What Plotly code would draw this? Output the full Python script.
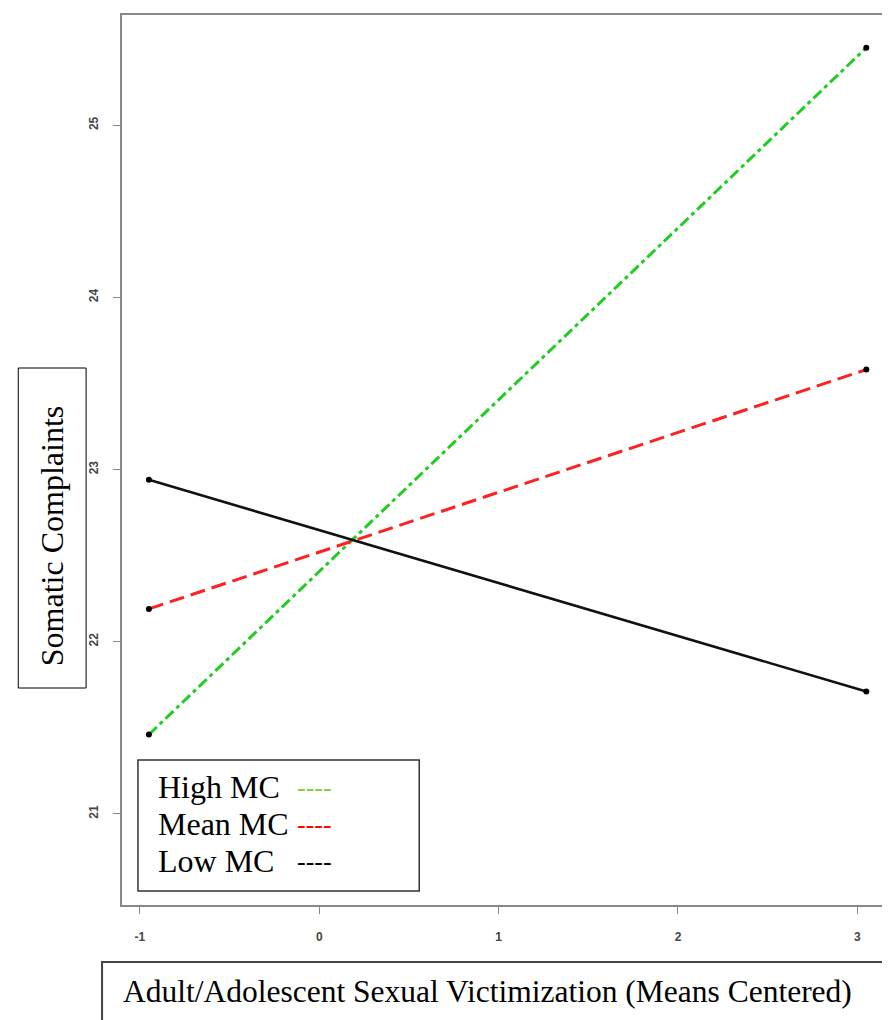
import plotly.graph_objects as go

# Data
x_points = [-0.95, 3.05]
high_mc = [21.46, 25.45]
mean_mc = [22.19, 23.58]
low_mc = [22.94, 21.71]
x_ticks = [-1, 0, 1, 2, 3]
x_ticktext = ["-1", "0", "1", "2", "3"]
y_ticks = [21, 22, 23, 24, 25]
y_ticktext = ["21", "22", "23", "24", "25"]
legend_labels = ["High MC", "Mean MC", "Low MC"]
x_title = "Adult/Adolescent Sexual Victimization (Means Centered)"
y_title = "Somatic Complaints"

W, H = 890, 1020
L, R, T, B = 114, 889, 7, 897
def px(x): return (x - L) / (R - L)
def py(y): return (B - y) / (B - T)

fig = go.Figure()
fig.add_trace(go.Scatter(x=x_points, y=high_mc, mode="lines+markers",
                         line=dict(color="#22cc22", width=3, dash="11px,4px,4px,4px"),
                         marker=dict(color="black", size=6), showlegend=False))
fig.add_trace(go.Scatter(x=x_points, y=mean_mc, mode="lines+markers",
                         line=dict(color="#ff2020", width=3, dash="15px,7px"),
                         marker=dict(color="black", size=6), showlegend=False))
fig.add_trace(go.Scatter(x=x_points, y=low_mc, mode="lines+markers",
                         line=dict(color="#111111", width=2.6),
                         marker=dict(color="black", size=6), showlegend=False))

serif = "Liberation Serif, Times New Roman, serif"
tickfont = dict(family="Liberation Sans, Arial, sans-serif", size=12, color="#444444",
                weight="bold")

fig.update_layout(
    width=W, height=H,
    margin=dict(l=L, r=W - R, t=T, b=H - B),
    plot_bgcolor="white", paper_bgcolor="white",
    xaxis=dict(range=[-1.10, 3.21], tickvals=x_ticks, ticktext=x_ticktext,
               showgrid=False, zeroline=False, showline=True, linecolor="#888888",
               linewidth=2, ticks="outside", ticklen=7, tickcolor="#888888",
               tickfont=tickfont, ticklabelstandoff=13, mirror=True),
    yaxis=dict(range=[20.47, 25.64], tickvals=y_ticks, ticktext=y_ticktext,
               showgrid=False, zeroline=False, showline=True, linecolor="#888888",
               linewidth=2, ticks="outside", ticklen=7, tickcolor="#888888",
               tickfont=tickfont, tickangle=-90, ticklabelstandoff=10, mirror=True),
)

shapes = []
shapes.append(dict(type="rect", xref="paper", yref="paper",
                   x0=px(10), x1=px(78), y0=py(680), y1=py(360),
                   line=dict(color="black", width=1), fillcolor="white", layer="above"))
shapes.append(dict(type="rect", xref="paper", yref="paper",
                   x0=px(130), x1=px(412), y0=py(883), y1=py(752),
                   line=dict(color="#333333", width=1.5), fillcolor="white", layer="above"))
shapes.append(dict(type="rect", xref="paper", yref="paper",
                   x0=px(94), x1=px(905), y0=py(1030), y1=py(954),
                   line=dict(color="#444444", width=2), fillcolor="white", layer="above"))
fig.update_layout(shapes=shapes)

ann = []
ann.append(dict(text=y_title, xref="paper", yref="paper", x=px(44), y=py(528),
                showarrow=False, textangle=-90, xanchor="center", yanchor="middle",
                font=dict(family=serif, size=32, color="black")))
ann.append(dict(text=x_title, xref="paper", yref="paper", x=px(113), y=py(983),
                showarrow=False, xanchor="left", yanchor="middle",
                font=dict(family=serif, size=31.5, color="black")))
legend_y = [779, 816, 853]
legend_colors = ["#88cc44", "#ff0000", "#000000"]
for lab, yy, col in zip(legend_labels, legend_y, legend_colors):
    ann.append(dict(text=lab, xref="paper", yref="paper", x=px(148), y=py(yy),
                    showarrow=False, xanchor="left", yanchor="middle",
                    font=dict(family=serif, size=32, color="black")))
    ann.append(dict(text="----", xref="paper", yref="paper", x=px(287), y=py(yy),
                    showarrow=False, xanchor="left", yanchor="middle",
                    font=dict(family=serif, size=26, color=col)))
fig.update_layout(annotations=ann)

fig.write_html("out.html")
